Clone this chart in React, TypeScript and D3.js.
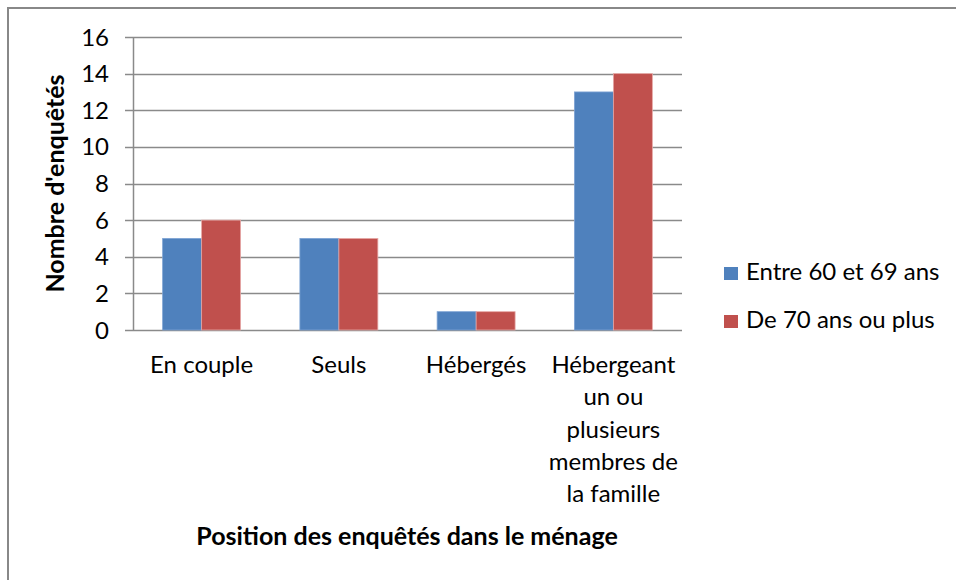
import React, { useEffect, useRef } from "react";
import * as d3 from "d3";

const categories: string[][] = [
  ["En couple"],
  ["Seuls"],
  ["Hébergés"],
  ["Hébergeant", "un ou", "plusieurs", "membres de", "la famille"],
];
const seriesNames = ["Entre 60 et 69 ans", "De 70 ans ou plus"];
const series60to69 = [5, 5, 1, 13];
const series70plus = [6, 5, 1, 14];
const yTicks = [0, 2, 4, 6, 8, 10, 12, 14, 16];
const colors = ["#4F81BD", "#C0504D"];
const yTitle = "Nombre d'enquêtés";
const xTitle = "Position des enquêtés dans le ménage";

const W = 956;
const H = 580;
const FONT = "Lato, 'Open Sans', sans-serif";
const FS = 24;
const TFS = 25;

export default function App() {
  const ref = useRef<SVGSVGElement>(null);
  useEffect(() => {
    const svg = d3.select(ref.current);
    svg.selectAll("*").remove();
    const left = 133, right = 682, top = 37, bottom = 330;

    // outer border
    svg.append("rect").attr("x", 8).attr("y", 8).attr("width", 1000).attr("height", 1000)
      .attr("fill", "white").attr("stroke", "#888888").attr("stroke-width", 2);

    const y = d3.scaleLinear().domain([0, 16]).range([bottom, top]);
    const keys = categories.map((_, i) => String(i));
    const x0 = d3.scaleBand().domain(keys).range([left, right]).paddingInner(0.432).paddingOuter(0.216);
    const x1 = d3.scaleBand().domain(["0", "1"]).range([0, x0.bandwidth()]);

    // gridlines
    svg.append("g").selectAll("line").data(yTicks).join("line")
      .attr("x1", left - 8).attr("x2", right)
      .attr("y1", (d) => Math.round(y(d)) + 0.5).attr("y2", (d) => Math.round(y(d)) + 0.5)
      .attr("stroke", "#8a8a8a").attr("stroke-width", 1.5);

    // y axis line
    svg.append("line").attr("x1", left + 0.5).attr("x2", left + 0.5).attr("y1", y(16)).attr("y2", y(0))
      .attr("stroke", "#8a8a8a").attr("stroke-width", 1.5);

    // tick labels
    svg.append("g").selectAll("text").data(yTicks).join("text")
      .attr("x", 109).attr("y", (d) => y(d) + 8.5)
      .attr("text-anchor", "end").attr("font-family", FONT).attr("font-size", FS).attr("fill", "#000")
      .text((d) => String(d));

    const data = [series60to69, series70plus];
    const g = svg.append("g");
    data.forEach((vals, s) => {
      g.selectAll(`rect.s${s}`).data(vals).join("rect")
        .attr("class", `s${s}`)
        .attr("x", (_, i) => (x0(String(i)) as number) + (x1(String(s)) as number))
        .attr("width", x1.bandwidth())
        .attr("y", (d) => y(d))
        .attr("height", (d) => y(0) - y(d))
        .attr("fill", colors[s])
        .attr("stroke", s === 0 ? "#7ea3d4" : "#e6a8a6").attr("stroke-width", 0.8);
    });

    // x labels
    categories.forEach((lines, i) => {
      const cx = (x0(String(i)) as number) + x0.bandwidth() / 2;
      lines.forEach((ln, j) => {
        svg.append("text").attr("x", cx).attr("y", 373 + j * 32.3)
          .attr("text-anchor", "middle").attr("font-family", FONT).attr("font-size", FS).attr("fill", "#000")
          .text(ln);
      });
    });

    // titles
    svg.append("text").attr("x", 407).attr("y", 545).attr("text-anchor", "middle")
      .attr("font-family", FONT).attr("font-size", TFS).attr("font-weight", "bold").text(xTitle);
    svg.append("text").attr("transform", `translate(64,${(top + bottom) / 2}) rotate(-90)`)
      .attr("text-anchor", "middle").attr("font-family", FONT).attr("font-size", TFS)
      .attr("font-weight", "bold").text(yTitle);

    // legend
    const legY = [267, 315];
    seriesNames.forEach((name, s) => {
      svg.append("rect").attr("x", 724).attr("y", legY[s]).attr("width", 14).attr("height", 13).attr("fill", colors[s]);
      svg.append("text").attr("x", 746).attr("y", legY[s] + 13).attr("font-family", FONT).attr("font-size", FS)
        .text(name);
    });
  }, []);
  return (
    <svg ref={ref} width={W} height={H} style={{ position: "fixed", top: 0, left: 0, background: "white" }} />
  );
}
